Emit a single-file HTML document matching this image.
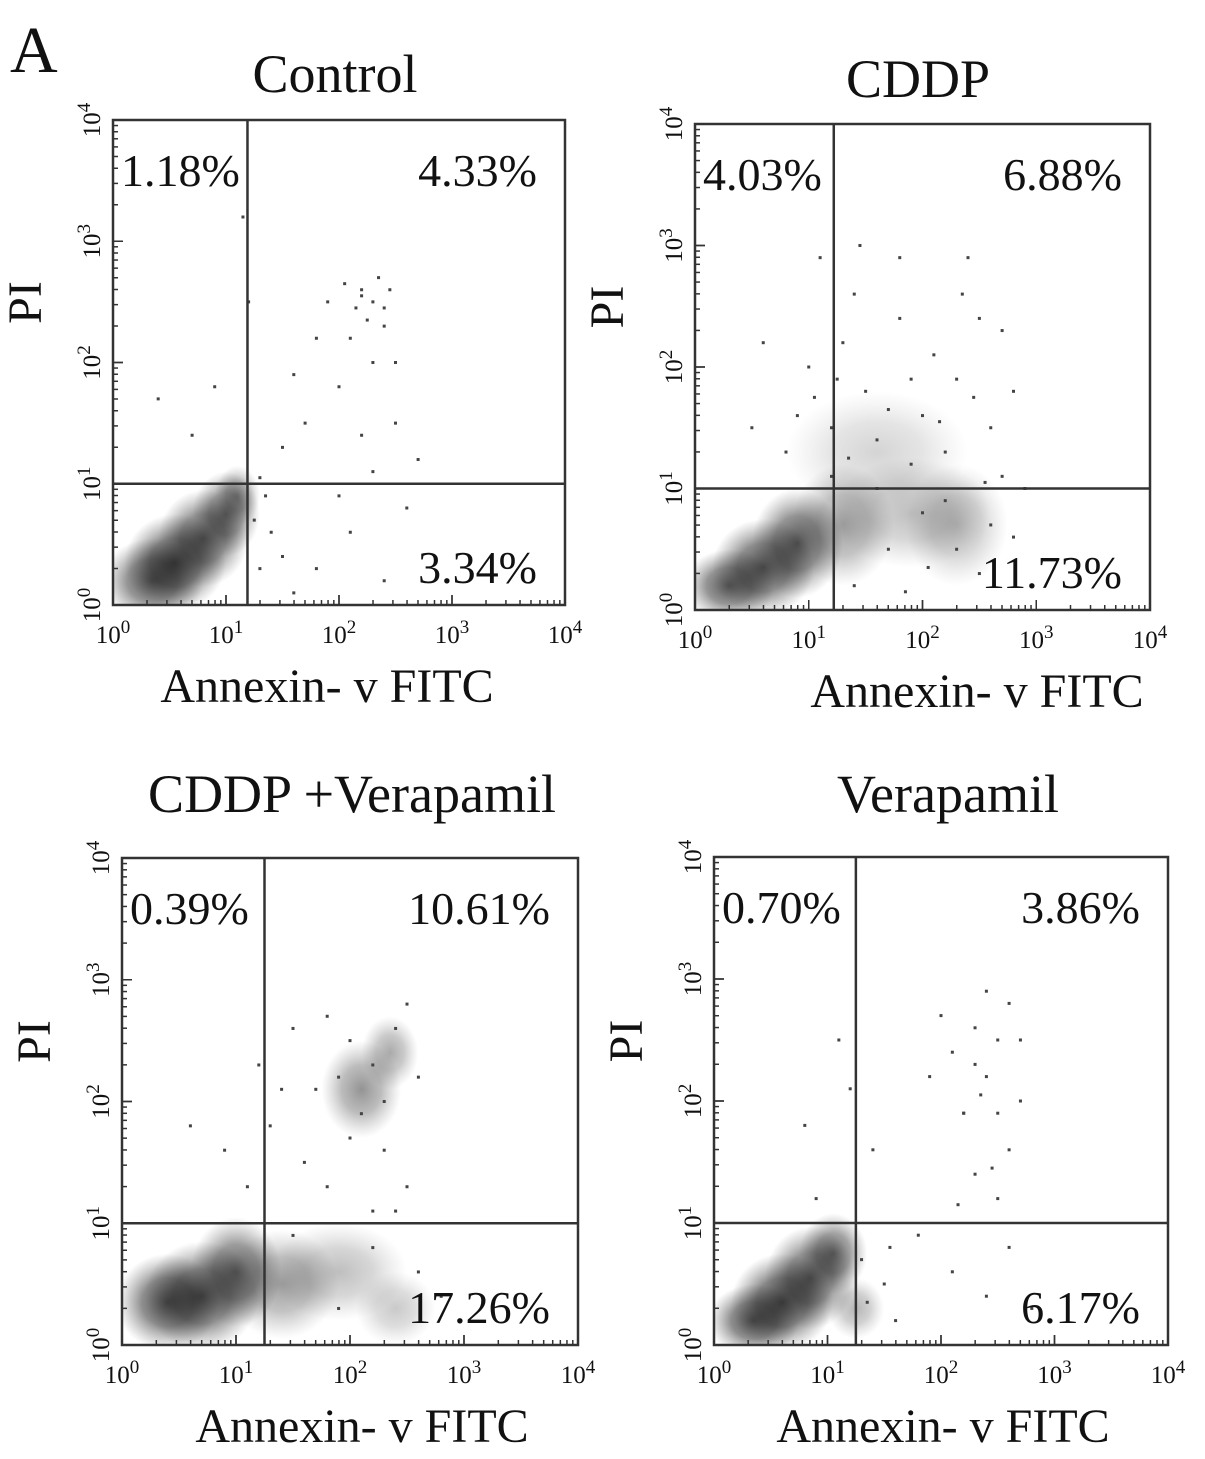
<!DOCTYPE html>
<html><head><meta charset="utf-8"><style>
body{margin:0;background:#fff;}
svg{display:block;}
text{font-family:"Liberation Serif",serif;fill:#111;}
</style></head><body>
<svg id="fig" width="1205" height="1459" viewBox="0 0 1205 1459">
<defs>
<radialGradient id="blob"><stop offset="0" stop-color="#111" stop-opacity="0.9"/><stop offset="0.5" stop-color="#222" stop-opacity="0.6"/><stop offset="1" stop-color="#555" stop-opacity="0"/></radialGradient>
</defs>
<text x="10" y="72" font-size="66">A</text>
</svg>
<script>
// Control
const ctrlPts=[[2.2,2.6],[2.3,2.5],[2.1,2.2],[2.4,2.3],[2.35,2.7],[1.8,2.2],[1.6,1.9],[2.0,1.8],[2.5,1.5],[2.3,1.1],[1.5,1.3],[2.6,0.8],[2.1,0.6],[1.8,0.3],[2.4,0.2],[2.7,1.2],[0.4,1.7],[0.9,1.8],[1.15,3.2],[1.2,2.5],[0.7,1.4],[1.4,0.6],[1.6,0.1],[2.2,1.4],[2.5,2.0],[1.9,2.5],[2.25,2.35],[2.45,2.6],[1.7,1.5],[2.0,0.9],[2.15,2.45],[2.3,2.0],[2.05,2.65],[1.35,0.9],[1.5,0.4],[1.3,0.3],[1.25,0.7],[1.3,1.05],[2.2,2.55],[2.4,2.45]];
const ctrlBlobs=[[0.35,0.2,0.45,0.35,0.8],[0.55,0.35,0.45,0.4,0.9],[0.8,0.55,0.4,0.4,0.8],[1.0,0.75,0.3,0.35,0.7],[1.1,0.9,0.2,0.25,0.5]];
const ctrlPct=["1.18%","4.33%","3.34%"];
// CDDP
const cddpPts=[[1.0,2.0],[1.3,2.2],[1.5,1.8],[1.8,2.4],[2.1,2.1],[2.3,1.9],[2.5,2.4],[2.6,1.5],[2.2,1.3],[1.9,1.2],[1.6,1.4],[1.2,1.5],[0.8,1.3],[0.5,1.5],[1.1,2.9],[1.45,3.0],[1.8,2.9],[2.4,2.9],[2.7,2.3],[2.8,1.8],[2.9,1.0],[2.6,0.7],[2.3,0.5],[2.0,0.8],[1.7,0.5],[1.4,0.2],[2.5,0.3],[2.8,0.6],[1.2,1.1],[0.9,1.6],[1.4,2.6],[2.0,1.6],[2.35,2.6],[0.6,2.2],[1.6,1.0],[2.2,0.9],[2.7,1.1],[1.9,1.9],[1.05,1.75],[1.25,1.9],[1.35,1.25],[1.7,1.65],[2.15,1.55],[2.45,1.75],[2.55,1.05],[1.85,0.15],[2.05,0.35]];
const cddpBlobs=[[0.3,0.2,0.4,0.3,0.8],[0.6,0.35,0.45,0.4,0.85],[0.9,0.55,0.4,0.45,0.8],[1.3,0.7,0.45,0.5,0.45],[1.9,0.8,0.7,0.45,0.3],[2.3,0.7,0.45,0.5,0.3],[1.6,1.3,0.8,0.5,0.2]];
const cddpPct=["4.03%","6.88%","11.73%"];
// CDDP + Verapamil
const cvPts=[[1.5,2.6],[1.8,2.7],[2.0,2.5],[2.2,2.3],[2.4,2.6],[2.5,2.8],[1.3,1.8],[1.6,1.5],[2.3,1.6],[2.5,1.3],[1.4,2.1],[0.9,1.6],[0.6,1.8],[1.1,1.3],[2.1,1.9],[2.6,2.2],[1.8,1.3],[2.2,1.1],[1.2,2.3],[1.9,2.2],[2.3,2.0],[2.4,1.1],[1.7,2.1],[2.0,1.7],[2.6,0.6],[2.8,0.4],[2.2,0.8],[1.5,0.9],[1.9,0.3]];
const cvBlobs=[[0.4,0.35,0.45,0.4,0.85],[0.7,0.4,0.5,0.45,0.85],[1.0,0.6,0.4,0.45,0.75],[1.4,0.5,0.5,0.45,0.45],[1.9,0.6,0.6,0.4,0.3],[2.1,2.1,0.35,0.4,0.5],[2.35,2.4,0.25,0.3,0.4],[2.4,0.3,0.35,0.3,0.25]];
const cvPct=["0.39%","10.61%","17.26%"];
// Verapamil
const verPts=[[2.1,2.4],[2.3,2.6],[2.5,2.5],[2.6,2.8],[2.4,2.2],[2.2,1.9],[2.7,2.0],[2.3,1.4],[2.5,1.2],[2.6,0.8],[2.4,0.4],[2.1,0.6],[1.8,0.9],[1.5,0.5],[1.4,1.6],[1.2,2.1],[0.8,1.8],[0.9,1.2],[1.1,2.5],[2.0,2.7],[2.4,2.9],[2.6,1.6],[2.2,1.9],[1.9,2.2],[2.7,2.5],[2.3,2.3],[1.6,0.2],[2.8,0.3],[2.5,1.9],[2.35,2.05],[2.45,1.45],[2.15,1.15],[1.3,0.7],[1.35,0.35],[1.55,0.8]];
const verBlobs=[[0.35,0.2,0.4,0.3,0.85],[0.6,0.35,0.45,0.4,0.9],[0.85,0.55,0.4,0.42,0.8],[1.05,0.75,0.3,0.33,0.7],[1.25,0.3,0.25,0.25,0.35]];
const verPct=["0.70%","3.86%","6.17%"];
const ticks=["0","1","2","3","4"];

const NS="http://www.w3.org/2000/svg";
const svg=document.getElementById('fig');
function mk(tag,attrs,parent){const e=document.createElementNS(NS,tag);for(const k in attrs)e.setAttribute(k,attrs[k]);(parent||svg).appendChild(e);return e;}

const panels=[
 {name:'control',title:'Control',tx:335,ty:92,x0:113,x1:565,y0:605,y1:120,qx:1.19,qy:1.0,pts:ctrlPts,blobs:ctrlBlobs,pct:ctrlPct,xlx:327},
 {name:'cddp',title:'CDDP',tx:918,ty:97,x0:695,x1:1150,y0:610,y1:124,qx:1.22,qy:1.0,pts:cddpPts,blobs:cddpBlobs,pct:cddpPct,xlx:977},
 {name:'cddp-verapamil',title:'CDDP +Verapamil',tx:352,ty:812,x0:122,x1:578,y0:1345,y1:858,qx:1.25,qy:1.0,pts:cvPts,blobs:cvBlobs,pct:cvPct,xlx:362},
 {name:'verapamil',title:'Verapamil',tx:948,ty:812,x0:714,x1:1168,y0:1345,y1:857,qx:1.25,qy:1.0,pts:verPts,blobs:verBlobs,pct:verPct,xlx:943}
];
panels.forEach(p=>{
 const g=mk('g',{});
 
 
 const sx=v=>p.x0+(p.x1-p.x0)*v/4, sy=v=>p.y0+(p.y1-p.y0)*v/4;
 const t=mk('text',{x:p.tx,y:p.ty,'font-size':54,'text-anchor':'middle'},g);t.textContent=p.title;
 
 const clip='c'+p.name;const cp=mk('clipPath',{id:clip},g);mk('rect',{x:p.x0,y:p.y1,width:p.x1-p.x0,height:p.y0-p.y1},cp);
 const dg=mk('g',{'clip-path':'url(#'+clip+')'},g);
 p.blobs.forEach(b=>{const e=mk('ellipse',{cx:sx(b[0]),cy:sy(b[1]),rx:b[2]*(p.x1-p.x0)/4,ry:b[3]*(p.y0-p.y1)/4,fill:'url(#blob)','fill-opacity':b[4]},dg);
  });
 p.pts.forEach(q=>{const e=mk('rect',{x:sx(q[0])-1.5,y:sy(q[1])-1.5,width:3,height:3,fill:'#444'},dg);
  });
 const fr=mk('rect',{x:p.x0,y:p.y1,width:p.x1-p.x0,height:p.y0-p.y1,fill:'none',stroke:'#333','stroke-width':2.5},g);
 
 const vl=mk('line',{x1:sx(p.qx),x2:sx(p.qx),y1:p.y1,y2:p.y0,stroke:'#333','stroke-width':2.5},g);
 
 const hl=mk('line',{x1:p.x0,x2:p.x1,y1:sy(p.qy),y2:sy(p.qy),stroke:'#333','stroke-width':2.5},g);
 
 for(let d=0;d<4;d++)for(let m=1;m<=10;m++){const v=d+Math.log10(m);
  mk('line',{x1:sx(v),x2:sx(v),y1:p.y0,y2:p.y0-(m==1||m==10?10:5),stroke:'#333','stroke-width':1.5},g);
  mk('line',{x1:p.x0,x2:p.x0+(m==1||m==10?10:5),y1:sy(v),y2:sy(v),stroke:'#333','stroke-width':1.5},g);}
 ticks.forEach((tk,i)=>{
  const xt=mk('text',{x:sx(i),y:p.y0+38,'font-size':25,'text-anchor':'middle'},g);
  xt.innerHTML='10<tspan dy="-10" font-size="19">'+tk+'</tspan>';
  
  const yt=mk('text',{x:0,y:0,'font-size':25,'text-anchor':'middle',transform:'translate('+(p.x0-13)+','+sy(i)+') rotate(-90)'},g);
  yt.innerHTML='10<tspan dy="-10" font-size="19">'+tk+'</tspan>';
  
 });
 const xl=mk('text',{x:p.xlx,y:p.y0+97,'font-size':48,'text-anchor':'middle'},g);
 xl.textContent='Annexin- v  FITC';
 
 const yl=mk('text',{x:0,y:0,'font-size':48,'text-anchor':'middle',transform:'translate('+(p.x0-72)+','+((p.y0+p.y1)/2-60)+') rotate(-90)'},g);
 yl.textContent='PI';
 const l1=mk('text',{x:p.x0+8,y:p.y1+66,'font-size':46},g);l1.textContent=p.pct[0];
 
 const l2=mk('text',{x:p.x1-28,y:p.y1+66,'font-size':46,'text-anchor':'end'},g);l2.textContent=p.pct[1];
 
 const l3=mk('text',{x:p.x1-28,y:p.y0-22,'font-size':46,'text-anchor':'end'},g);l3.textContent=p.pct[2];
 
});
</script>
</body></html>
